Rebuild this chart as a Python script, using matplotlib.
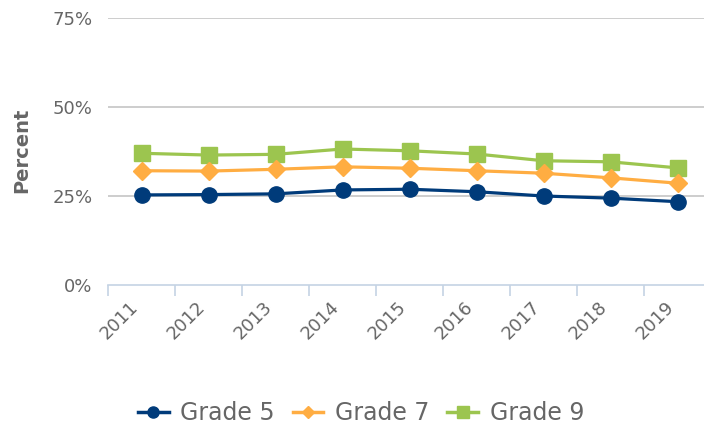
import matplotlib
matplotlib.use("Agg")
import matplotlib.pyplot as plt
from matplotlib.ticker import FuncFormatter
from matplotlib.lines import Line2D

years = ["2011", "2012", "2013", "2014", "2015", "2016", "2017", "2018", "2019"]
grade5 = [25.3, 25.4, 25.6, 26.7, 26.9, 26.2, 25.0, 24.4, 23.4]
grade7 = [32.1, 32.0, 32.5, 33.2, 32.8, 32.1, 31.4, 30.1, 28.6]
grade9 = [37.0, 36.5, 36.7, 38.2, 37.7, 36.8, 34.9, 34.6, 32.9]
yticks = [0, 25, 50, 75]

plt.rcParams['font.family'] = ['DejaVu Sans']

W, H = 704, 430
fig = plt.figure(figsize=(W / 100, H / 100), dpi=100)
left, right, top, bottom = 108, 711, 18, 285
ax = fig.add_axes([left / W, 1 - bottom / H, (right - left) / W, (bottom - top) / H])

c5, c7, c9 = "#003b7a", "#ffad42", "#9cc54f"
x = list(range(len(years)))
ax.plot(x, grade5, color=c5, lw=2.3, marker='o', ms=11, zorder=5)
ax.plot(x, grade7, color=c7, lw=2.3, marker='D', ms=9, zorder=4)
ax.plot(x, grade9, color=c9, lw=2.3, marker='s', ms=11, zorder=3)

ax.set_xlim(-0.5, len(years) - 0.5)
ax.set_ylim(0, 75)
ax.set_yticks(yticks)
ax.yaxis.set_major_formatter(FuncFormatter(lambda v, p: f"{int(v)}%"))
for yv in yticks[1:]:
    ax.axhline(yv, color="#c9c9c9", lw=1.3, zorder=1)

ax.set_xticks(x)
ax.set_xticklabels(years, rotation=45, ha='right', va='top')
ax.set_xticks([i - 0.5 for i in range(len(years) + 1)], minor=True)
ax.tick_params(axis='x', which='major', length=0, pad=9, labelsize=13, labelcolor="#666666")
ax.tick_params(axis='x', which='minor', length=8, color="#c5d3e4", width=1.2)
ax.tick_params(axis='y', length=0, pad=11, labelsize=13, labelcolor="#666666")

for s in ['top', 'right', 'left']:
    ax.spines[s].set_visible(False)
ax.spines['bottom'].set_color("#c5d3e4")
ax.spines['bottom'].set_linewidth(1.2)

fig.text(22 / W, 1 - 150 / H, "Percent", rotation=90, ha='center', va='center',
         fontsize=14, fontweight='bold', color="#666666")

handles = [
    Line2D([], [], color=c5, lw=2.5, marker='o', ms=8),
    Line2D([], [], color=c7, lw=2.5, marker='D', ms=6),
    Line2D([], [], color=c9, lw=2.5, marker='s', ms=8),
]
fig.legend(handles, ["Grade 5", "Grade 7", "Grade 9"], loc='center',
           bbox_to_anchor=(361 / W, 1 - 413 / H), ncol=3, frameon=False,
           fontsize=17, labelcolor="#666666", handlelength=1.3, handletextpad=0.5,
           columnspacing=0.75)

fig.savefig("out.png", dpi=100)
